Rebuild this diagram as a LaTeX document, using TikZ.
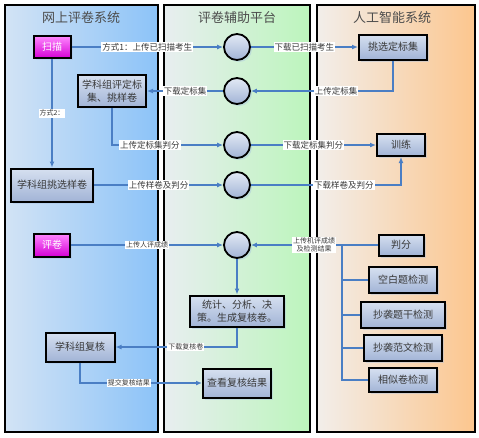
\documentclass[tikz,border=0pt]{standalone}
\usepackage{fontspec}
\usepackage{tikz}
\usetikzlibrary{arrows.meta,shadows}
\newfontfamily\cjk{Noto Sans CJK SC}
\definecolor{lnblue}{HTML}{4A7EC4}
\definecolor{txtgray}{HTML}{383838}
\definecolor{bxtop}{HTML}{D6E0F0}
\definecolor{bxbot}{HTML}{A2B4D6}
\definecolor{mgtop}{HTML}{FF88FF}
\definecolor{mgbot}{HTML}{D400D4}
\definecolor{lpL}{HTML}{D2E3F5}
\definecolor{lpR}{HTML}{8CC3F8}
\definecolor{mpL}{HTML}{E8EEF0}
\definecolor{mpR}{HTML}{BCF5BC}
\definecolor{rpL}{HTML}{F2EEEA}
\definecolor{rpR}{HTML}{FCC68E}

\begin{document}
\begin{tikzpicture}[x=1pt, y=-1pt,
  pnl/.style={draw, line width=2pt},
  ttl/.style={font=\cjk\fontsize{13}{15}\selectfont, text=txtgray!90},
  bx/.style={draw, line width=2pt, top color=bxtop, bottom color=bxbot,
             align=center, inner sep=2pt, text=txtgray,
             font=\cjk\fontsize{10}{13}\selectfont,
             drop shadow={fill=lnblue!50, opacity=0.4, shadow xshift=2pt, shadow yshift=-2pt}},
  mg/.style={bx, top color=mgtop, bottom color=mgbot, text=white},
  hub/.style={circle, draw, line width=1.8pt, minimum size=26pt, inner sep=0pt,
              top color=bxtop!70!white, bottom color=bxbot,
              drop shadow={fill=lnblue!50, opacity=0.4, shadow xshift=2pt, shadow yshift=-2pt}},
  ln/.style={draw=lnblue, line width=1.5pt},
  ar/.style={ln, -{Latex[length=6pt,width=5pt]}},
  lb/.style={fill=white, inner sep=1pt, text=txtgray,
             font=\cjk\fontsize{8.5}{10}\selectfont},
  sl/.style={lb, align=center, font=\cjk\fontsize{7}{8}\selectfont}]
\useasboundingbox (0,0) rectangle (479,437);
% three columns
\path[pnl, left color=lpL, right color=lpR] (5,5) rectangle (158,432);
\path[pnl, left color=mpL, right color=mpR] (164,5) rectangle (310,432);
\path[pnl, left color=rpL, right color=rpR] (317,5) rectangle (475,432);
\node[ttl] (t1) at (81,18) {网上评卷系统};
\node[ttl] (t2) at (237,18) {评卷辅助平台};
\node[ttl] (t3) at (392,18) {人工智能系统};

% boxes
\node[mg, minimum width=37pt, minimum height=22pt] (scan) at (52,47) {扫描};
\node[bx, minimum width=68pt, minimum height=25pt] (pick) at (393,47) {挑选定标集};
\node[bx, minimum width=68pt, minimum height=32pt] (eval) at (112,91) {学科组评定标\\集、挑样卷};
\node[bx, minimum width=48pt, minimum height=22pt] (train) at (401,145) {训练};
\node[bx, minimum width=82pt, minimum height=33pt] (sample) at (52,185) {学科组挑选样卷};
\node[mg, minimum width=36pt, minimum height=23pt] (mark) at (52,245) {评卷};
\node[bx, minimum width=45pt, minimum height=21pt] (judge) at (401,245) {判分};
\node[bx, minimum width=68pt, minimum height=26pt] (blank) at (403,280) {空白题检测};
\node[bx, minimum width=84pt, minimum height=26pt] (copyq) at (403,315) {抄袭题干检测};
\node[bx, minimum width=78pt, minimum height=26pt] (copye) at (403,348) {抄袭范文检测};
\node[bx, minimum width=68pt, minimum height=24pt] (simil) at (403,380) {相似卷检测};
\node[bx, minimum width=94pt, minimum height=31pt] (stat) at (237,311) {统计、分析、决\\策。生成复核卷。};
\node[bx, minimum width=69pt, minimum height=29pt] (review) at (80,347) {学科组复核};
\node[bx, minimum width=68pt, minimum height=29pt] (result) at (237,383) {查看复核结果};

% platform hubs
\node[hub] (c1) at (237,47) {};
\node[hub] (c2) at (237,91) {};
\node[hub] (c3) at (237,145) {};
\node[hub] (c4) at (237,185) {};
\node[hub] (c5) at (237,245) {};
\coordinate (br) at (342,245);

% connectors
\draw[ar] (scan) -- node[lb] {方式1：上传已扫描考生} (c1);
\draw[ar] (c1) -- node[lb] {下载已扫描考生} (pick);
\draw[ar] (pick.south) |- node[lb, pos=0.7] {上传定标集} (c2);
\draw[ar] (c2) -- node[lb] {下载定标集} (eval);
\draw[ar] (eval.south) |- node[lb, pos=0.67] {上传定标集判分} (c3);
\draw[ar] (c3) -- node[lb] {下载定标集判分} (train);
\draw[ar] (scan) -- node[sl] {方式2：} (sample);
\draw[ar] (sample) -- node[lb] {上传样卷及判分} (c4);
\draw[ar] (c4) -| node[lb, pos=0.31] {下载样卷及判分} (train);
\draw[ar] (mark) -- node[sl] {上传人评成绩} (c5);
\draw[ar] (judge) -- node[sl] {上传机评成绩\\及检测结果} (c5);
\draw[ln] (br) |- (blank);
\draw[ln] (br) |- (copyq);
\draw[ln] (br) |- (copye);
\draw[ln] (br) |- (simil);
\draw[ar] (c5) -- (stat);
\draw[ar] (stat.south) |- node[sl, pos=0.71] {下载复核卷} (review);
\draw[ar] (review.south) |- node[sl, pos=0.7] {提交复核结果} (result);
\end{tikzpicture}
\end{document}
